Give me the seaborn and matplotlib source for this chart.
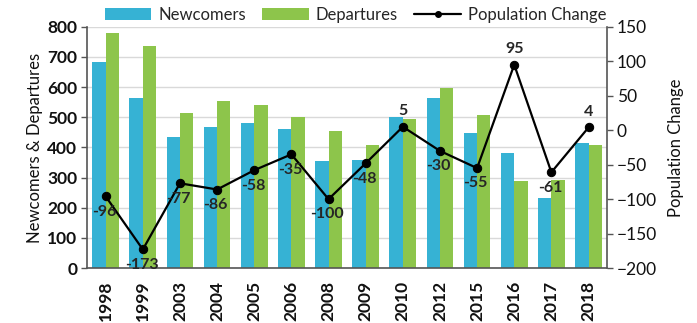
import matplotlib
matplotlib.use("Agg")
import matplotlib.pyplot as plt
import seaborn as sns
import pandas as pd
from matplotlib.lines import Line2D
from matplotlib.patches import Patch

years = ["1998", "1999", "2003", "2004", "2005", "2006", "2008", "2009",
         "2010", "2012", "2015", "2016", "2017", "2018"]
newcomers = [683, 563, 434, 467, 481, 460, 356, 359, 500, 563, 448, 381, 232, 414]
departures = [779, 735, 514, 554, 541, 501, 453, 408, 495, 597, 508, 290, 292, 408]
pop_change = [-96, -173, -77, -86, -58, -35, -100, -48, 5, -30, -55, 95, -61, 4]

sns.set_theme(style="white")
plt.rcParams['font.family'] = ['Lato', 'DejaVu Sans']

c_new = "#36B2D4"
c_dep = "#8DC54B"

df = pd.DataFrame({
    "Year": years * 2,
    "Value": newcomers + departures,
    "Series": ["Newcomers"] * len(years) + ["Departures"] * len(years),
})

fig = plt.figure(figsize=(6.97, 3.23), dpi=100)
ax = fig.add_axes([0.125, 0.170, 0.746, 0.747])
sns.barplot(data=df, x="Year", y="Value", hue="Series", order=years,
            palette={"Newcomers": c_new, "Departures": c_dep},
            width=0.72, saturation=1, ax=ax, legend=False, edgecolor="none")
ax.set_ylim(0, 800)
ax.set_yticks(range(0, 801, 100))
ax.set_xlim(-0.5, len(years) - 0.5)
ax.yaxis.grid(True, color="#D9D9D9", lw=1)
ax.set_axisbelow(True)
ax.set_xlabel("")
ax.set_ylabel("Newcomers & Departures", fontsize=12, color="#111111", labelpad=3)
for s in ["top", "right"]:
    ax.spines[s].set_visible(False)
for s in ["left", "bottom"]:
    ax.spines[s].set_color("#555555")
    ax.spines[s].set_linewidth(1.2)
ax.tick_params(axis="y", which="both", left=True, length=4, width=1,
               color="#555555", labelsize=12.5, pad=3, labelcolor="#111111")
ax.tick_params(axis="x", bottom=False, labelsize=12.5, pad=3, labelcolor="#111111")
for lab in ax.get_yticklabels():
    lab.set_fontweight("bold")
for lab in ax.get_xticklabels():
    lab.set_rotation(90)
    lab.set_fontweight("bold")

ax2 = ax.twinx()
xs = list(range(len(years)))
sns.lineplot(x=xs, y=pop_change, ax=ax2, color="black", lw=1.6,
             marker="o", markersize=6, markeredgecolor="black", legend=False)
ax2.set_ylim(-200, 150)
ax2.set_yticks(range(-200, 151, 50))
ax2.set_xlim(-0.5, len(years) - 0.5)
ax2.set_ylabel("Population Change", fontsize=12, color="#111111", labelpad=8)
for s in ["top", "left", "bottom"]:
    ax2.spines[s].set_visible(False)
ax2.spines["right"].set_color("#555555")
ax2.spines["right"].set_linewidth(1.2)
ax2.tick_params(axis="y", right=True, length=4, width=1, color="#555555",
                labelsize=12.5, pad=3, labelcolor="#111111")
ax2.grid(False)

for x, v in zip(xs, pop_change):
    if v >= 0:
        ax2.annotate(str(v), (x, v), xytext=(0, 6), textcoords="offset points",
                     ha="center", va="bottom", fontsize=11.5, fontweight="bold")
    else:
        ax2.annotate(str(v), (x, v), xytext=(-1, -6), textcoords="offset points",
                     ha="center", va="top", fontsize=11.5, fontweight="bold")

handles = [Patch(facecolor=c_new, edgecolor="none"),
           Patch(facecolor=c_dep, edgecolor="none"),
           Line2D([0], [0], color="black", lw=1.6, marker="o", markersize=4)]
fig.legend(handles, ["Newcomers", "Departures", "Population Change"],
           loc="upper center", bbox_to_anchor=(0.51, 1.025), ncol=3, frameon=False,
           fontsize=12, handlelength=2.8, handleheight=0.7, columnspacing=1.0,
           handletextpad=0.4)

fig.savefig("out.png", dpi=100)
